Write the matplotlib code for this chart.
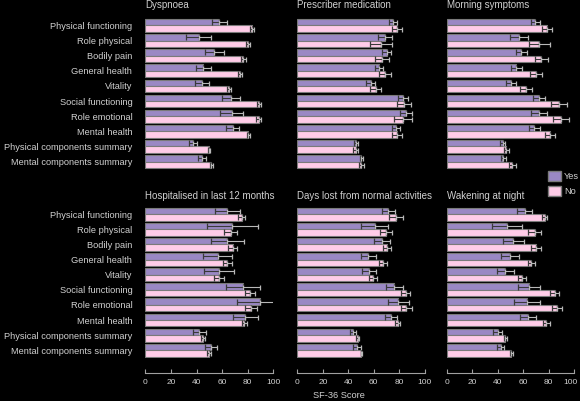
import matplotlib
matplotlib.use("Agg")
import matplotlib.pyplot as plt
from matplotlib.patches import Patch
from matplotlib.transforms import ScaledTranslation
import numpy as np

# --- data ---
categories = ["Physical functioning", "Role physical", "Bodily pain", "General health",
              "Vitality", "Social functioning", "Role emotional", "Mental health",
              "Physical components summary", "Mental components summary"]

titles = ["Dyspnoea", "Prescriber medication", "Morning symptoms",
          "Hospitalised in last 12 months", "Days lost from normal activities", "Wakening at night"]

dysp_yes = [58, 41.7, 54, 45.4, 44.6, 66.8, 67.6, 68.4, 37.5, 44.1]
dysp_yes_err = [6, 10, 7.5, 6, 5.5, 7, 9, 5, 3, 3]
dysp_no = [83.5, 80.1, 76.7, 74.4, 65.2, 88.8, 88.8, 80.6, 49.8, 51.6]
dysp_no_err = [1.5, 1.5, 2, 1.5, 1.5, 1.5, 2, 1, 1, 1]

presc_yes = [75.0, 68.7, 70.2, 64.2, 57.6, 82.9, 85.2, 77.3, 46.3, 50.3]
presc_yes_err = [3, 5.5, 3.5, 3, 3.5, 4, 4.7, 3, 1.5, 1.5]
presc_no = [78.1, 65.5, 66.8, 69.0, 61.6, 83.7, 82.6, 78.1, 45.8, 50.3]
presc_no_err = [4, 8.5, 5.5, 4.7, 4.3, 5.5, 7, 4, 1.8, 2]

morn_yes = [69.5, 57.0, 58.6, 54.7, 50.2, 72.4, 72.7, 68.8, 44, 44.5]
morn_yes_err = [3.5, 7, 4.5, 4, 4, 4.7, 6.3, 4, 2, 2]
morn_no = [78.6, 72.7, 74.2, 70.3, 62.5, 88.0, 89.8, 81.2, 46.6, 51.6]
morn_no_err = [4, 8, 5, 4.7, 4.7, 6, 6.5, 4, 2, 2.5]

hosp_yes = [64.2, 68.1, 64.2, 56.6, 57.9, 76.7, 90.0, 78.3, 42.2, 51.4]
hosp_yes_err = [10, 20, 13, 11.5, 11.7, 13.3, 18, 10, 5, 5]
hosp_no = [75.4, 66.8, 68.4, 64.2, 57.6, 82.0, 82.7, 77.3, 45.4, 49.5]
hosp_no_err = [3, 5, 3.5, 3.5, 4, 4, 5, 2, 1.5, 1.6]

days_yes = [71.3, 60.8, 66.3, 55.8, 56.3, 76.1, 79.2, 73.7, 43.4, 46.6]
days_yes_err = [5, 10.5, 6.3, 5.8, 5.3, 6.8, 8.4, 4.7, 2.4, 3]
days_no = [77.3, 69.4, 70.5, 67.1, 59.2, 85.0, 85.5, 78.9, 47.4, 50.3]
days_no_err = [5.6, 4.8, 3.2, 3, 3.2, 3.4, 4.5, 2, 1, 0.5]

wake_yes = [61.2, 47.6, 52.1, 49.5, 46.1, 64.8, 62.7, 63.8, 40.1, 42.2]
wake_yes_err = [6, 11.7, 8.3, 7.3, 6.7, 8.6, 10.2, 6, 3.4, 3]
wake_no = [76.8, 69.0, 70.3, 66.4, 59.1, 84.6, 86.7, 78.1, 46.1, 50.8]
wake_no_err = [1.8, 5, 3.9, 2.9, 3.4, 3.4, 3.9, 2.6, 1, 1.5]

x_ticks = [0, 20, 40, 60, 80, 100]

panels = [
    (dysp_yes, dysp_yes_err, dysp_no, dysp_no_err),
    (presc_yes, presc_yes_err, presc_no, presc_no_err),
    (morn_yes, morn_yes_err, morn_no, morn_no_err),
    (hosp_yes, hosp_yes_err, hosp_no, hosp_no_err),
    (days_yes, days_yes_err, days_no, days_no_err),
    (wake_yes, wake_yes_err, wake_no, wake_no_err),
]

# --- style ---
plt.rcParams['font.family'] = ['Liberation Sans', 'DejaVu Sans']
txt = '#d0d0d0'
yes_col = '#9a88c4'
no_col = '#ffcce8'
edge = '#7a7a7a'
W, H = 580, 401
fs = 6.7

fig = plt.figure(figsize=(W / 100, H / 100), dpi=100, facecolor='black')

col_left = [145.5, 297.3, 446.7]
row_top = [17.5, 206.2]
ax_w, ax_h = 127.5, 152

y = np.arange(len(categories))
bh = 0.425

def draw_bars(ax, vals, errs, offset, color):
    pos = y + offset
    ax.barh(pos, vals, height=bh, color=color, edgecolor=edge, linewidth=0.8, align='edge')
    centre = pos + bh / 2
    # lower half of the error bar sits inside the bar, dark
    ax.errorbar(vals, centre, xerr=[errs, np.zeros(len(errs))], fmt='none',
                ecolor='#3a3a3a', elinewidth=0.8, capsize=2.2, capthick=0.9)
    # upper half, light
    ax.errorbar(vals, centre, xerr=[np.zeros(len(errs)), errs], fmt='none',
                ecolor='#b8b8b8', elinewidth=0.8, capsize=1.8, capthick=0.9)

for i, (yes, yes_err, no, no_err) in enumerate(panels):
    r, c = divmod(i, 3)
    left = col_left[c]
    bottom = H - (row_top[r] + ax_h)
    ax = fig.add_axes([left / W, bottom / H, ax_w / W, ax_h / H])
    ax.set_facecolor('black')

    draw_bars(ax, yes, yes_err, -bh, yes_col)
    draw_bars(ax, no, no_err, 0, no_col)

    ax.set_xlim(0, 100)
    ax.set_ylim(len(categories) - 0.475, -0.525)
    for s in ['top', 'right', 'left']:
        ax.spines[s].set_visible(False)

    ax.set_yticks(y)
    if c == 0:
        ax.set_yticklabels(categories, fontsize=fs, color=txt)
    else:
        ax.set_yticklabels([])
    ax.tick_params(axis='y', length=0, pad=9.5)

    if r == 1:
        ax.spines['bottom'].set_position(('outward', 11))
        ax.spines['bottom'].set_color('#a0a0a0')
        ax.spines['bottom'].set_linewidth(0.8)
        ax.set_xticks(x_ticks)
        ax.tick_params(axis='x', direction='in', length=3, width=0.8,
                       color='#a0a0a0', labelsize=6, labelcolor=txt, pad=4)
        if c == 2:
            lab = ax.get_xticklabels()[-1]
            lab.set_transform(lab.get_transform() + ScaledTranslation(-4 / 100, 0, fig.dpi_scale_trans))
    else:
        ax.spines['bottom'].set_visible(False)
        ax.set_xticks([])

    title_y = 5.5 if r == 0 else 196
    fig.text(left / W, 1 - title_y / H, titles[i], fontsize=fs + 0.3, color=txt,
             ha='left', va='center')

fig.text(313 / W, 1 - 396 / H, "SF-36 Score", fontsize=fs, color=txt, ha='left', va='center')

handles = [Patch(facecolor=yes_col, edgecolor=edge, label='Yes'),
           Patch(facecolor=no_col, edgecolor=edge, label='No')]
leg = fig.legend(handles=handles, loc='upper left', bbox_to_anchor=(548 / W, 1 - 171 / H),
                 frameon=False, fontsize=fs, handlelength=1.35, handleheight=1.2,
                 handletextpad=0.4, labelspacing=0.6, borderpad=0, borderaxespad=0)
for t in leg.get_texts():
    t.set_color(txt)

fig.savefig('out.png', dpi=100, facecolor='black')
